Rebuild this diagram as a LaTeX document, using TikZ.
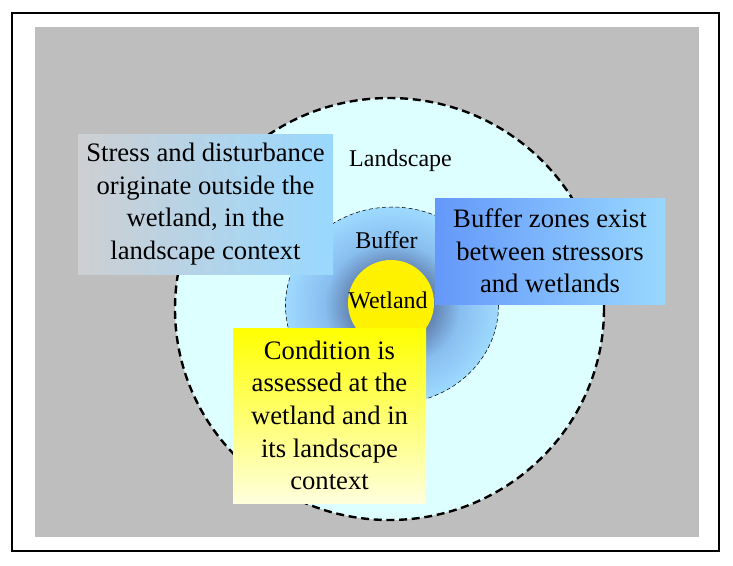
\documentclass[tikz,border=0pt]{standalone}
\usepackage{fontspec}
\setmainfont{Liberation Serif}

\definecolor{bggray}{RGB}{190,190,190}
\definecolor{landcyan}{RGB}{221,255,255}
\definecolor{bufdark}{RGB}{100,134,180}
\definecolor{bufmid}{RGB}{136,190,240}
\definecolor{buflight}{RGB}{158,218,255}
\definecolor{stressgray}{RGB}{206,207,210}
\definecolor{skyblue}{RGB}{153,216,255}
\definecolor{zoneblue}{RGB}{100,152,250}
\definecolor{paleyellow}{RGB}{255,255,221}

% path edge sits at 25bp
\pgfdeclareradialshading{bufferglow}{\pgfpoint{0bp}{0bp}}{%
  color(0bp)=(bufdark); color(10bp)=(bufdark); color(16bp)=(bufmid);
  color(25bp)=(buflight); color(50bp)=(buflight)}

\begin{document}
\begin{tikzpicture}[x=0.75pt, y=-0.75pt,
    note/.style={align=center, inner sep=0pt, font=\fontsize{20}{24.5}\selectfont},
    zonename/.style={inner sep=0pt, font=\fontsize{18}{21}\selectfont}]
  \useasboundingbox (0,0) rectangle (733,565);
  \draw [line width=1.8pt] (12,13) rectangle (719,551);
  \fill [bggray] (35,27) rectangle (699,537);

  % landscape, buffer and wetland zones
  \draw [fill=landcyan, line width=1.8pt, dash pattern=on 6pt off 3.5pt]
    (389.5,309) ellipse [x radius=214.5, y radius=211];
  \draw [shade, shading=bufferglow, line width=0.4pt, dash pattern=on 3pt off 2pt]
    (392,305.5) ellipse [x radius=106.5, y radius=98.5];
  \fill [yellow] (391,303) circle [radius=43];

  \node (land) [zonename] at (400.5,161) {Landscape};
  \node (buf) [zonename] at (386.5,240) {Buffer};
  \node (wet) [zonename] at (388,300) {Wetland};

  % text boxes
  \node (stress) [note, left color=stressgray, right color=skyblue,
    minimum width=191.25pt, minimum height=105pt] at (205.5,204)
    {Stress and disturbance\\originate outside the\\wetland, in the\\landscape context};
  \node (zones) [note, left color=zoneblue, right color=skyblue,
    minimum width=172.5pt, minimum height=79.5pt] at (550,251)
    {Buffer zones exist\\between stressors\\and wetlands};
  \node (cond) [note, top color=yellow, bottom color=paleyellow,
    minimum width=144.75pt, minimum height=131.25pt] at (329.5,415.5)
    {Condition is\\assessed at the\\wetland and in\\its landscape\\context};
\end{tikzpicture}
\end{document}
